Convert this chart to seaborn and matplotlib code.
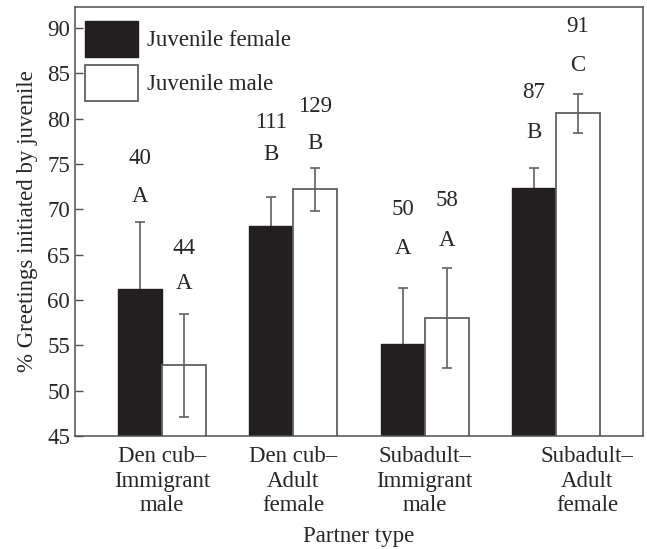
import pandas as pd
import seaborn as sns
import matplotlib.pyplot as plt
import matplotlib.patches as mpatches
from matplotlib.transforms import ScaledTranslation

# Partner types on the x axis
partner_types = [
    "Den cub–\nImmigrant\nmale",
    "Den cub–\nAdult\nfemale",
    "Subadult–\nImmigrant\nmale",
    "Subadult–\nAdult\nfemale",
]
juvenile_sex = ["Juvenile female", "Juvenile male"]

# % greetings initiated by juvenile (mean and SE)
female_pct = [61.2, 68.2, 55.1, 72.3]
male_pct = [52.8, 72.2, 58.0, 80.6]
female_se = [7.4, 3.2, 6.2, 2.2]
male_se = [5.7, 2.4, 5.5, 2.15]

# sample sizes and significance letters
female_n = [40, 111, 50, 87]
male_n = [44, 129, 58, 91]
female_letters = ["A", "B", "A", "B"]
male_letters = ["A", "B", "A", "C"]

# height (y units) of the letter and of the sample size above each bar
female_letter_y = [71.4, 76.0, 65.7, 78.5]
female_n_y = [75.6, 79.6, 70.0, 82.9]
male_letter_y = [61.8, 77.3, 66.6, 85.8]
male_n_y = [65.7, 81.3, 71.0, 90.1]

df = pd.DataFrame({
    "partner": partner_types * 2,
    "sex": [juvenile_sex[0]] * 4 + [juvenile_sex[1]] * 4,
    "pct": female_pct + male_pct,
})

sns.set_style("white")
plt.rcParams["font.family"] = ["Liberation Serif", "DejaVu Serif"]
fs = 16.5
plt.rcParams["font.size"] = fs

dark = "#231f20"
grey = "#606060"

fig = plt.figure(figsize=(6.47, 5.49), dpi=100)
ax = fig.add_axes([75 / 647, 113 / 549, 568 / 647, 429 / 549])

sns.barplot(data=df, x="partner", y="pct", hue="sex", order=partner_types,
            hue_order=juvenile_sex, palette=[dark, "white"], saturation=1,
            width=0.67, errorbar=None, legend=False, ax=ax)

for p in ax.containers[0]:
    p.set_edgecolor(dark)
    p.set_linewidth(1)
for p in ax.containers[1]:
    p.set_edgecolor(grey)
    p.set_linewidth(1.3)

# error bars, centred on the bars drawn by seaborn
fx = [p.get_x() + p.get_width() / 2 for p in ax.containers[0]]
mx = [p.get_x() + p.get_width() / 2 for p in ax.containers[1]]
ax.errorbar(fx, female_pct, yerr=female_se, fmt="none", ecolor=grey,
            elinewidth=1.2, capsize=3.3, capthick=1.2, zorder=0.5)
ax.errorbar(mx, male_pct, yerr=male_se, fmt="none", ecolor=grey,
            elinewidth=1.2, capsize=3.3, capthick=1.2, zorder=3)

for i in range(4):
    ax.text(fx[i], female_letter_y[i], female_letters[i], ha="center", va="center")
    ax.text(fx[i], female_n_y[i], str(female_n[i]), ha="center", va="center")
    ax.text(mx[i], male_letter_y[i], male_letters[i], ha="center", va="center")
    ax.text(mx[i], male_n_y[i], str(male_n[i]), ha="center", va="center")

ax.set_ylim(45, 92.3)
ax.set_xlim(-0.663, 3.663)
ax.set_yticks(range(45, 91, 5))

for s in ax.spines.values():
    s.set_visible(True)
    s.set_color("#505050")
    s.set_linewidth(1.1)

ax.tick_params(axis="y", left=True, direction="in", length=5.5, width=1,
               color="#505050", pad=3.5, labelsize=fs)
ax.tick_params(axis="x", bottom=False, pad=4, labelsize=fs)

ax.set_ylabel("% Greetings initiated by juvenile", fontsize=fs, labelpad=7)
ax.set_xlabel("Partner type", fontsize=fs, labelpad=7)

labels = ax.get_xticklabels()
for lab in labels:
    lab.set_multialignment("center")
    lab.set_linespacing(1.2)
labels[3].set_transform(labels[3].get_transform()
                        + ScaledTranslation(0.31, 0, fig.dpi_scale_trans))

handles = [
    mpatches.Patch(facecolor=dark, edgecolor=dark, label=juvenile_sex[0]),
    mpatches.Patch(facecolor="white", edgecolor=grey, linewidth=1.3,
                   label=juvenile_sex[1]),
]
ax.legend(handles=handles, loc="upper left", bbox_to_anchor=(0.018, 0.968),
          frameon=False, fontsize=fs, handlelength=2.3, handleheight=2.05,
          handletextpad=0.4, labelspacing=0.35, borderpad=0, borderaxespad=0)

fig.savefig("out.png", dpi=100)
